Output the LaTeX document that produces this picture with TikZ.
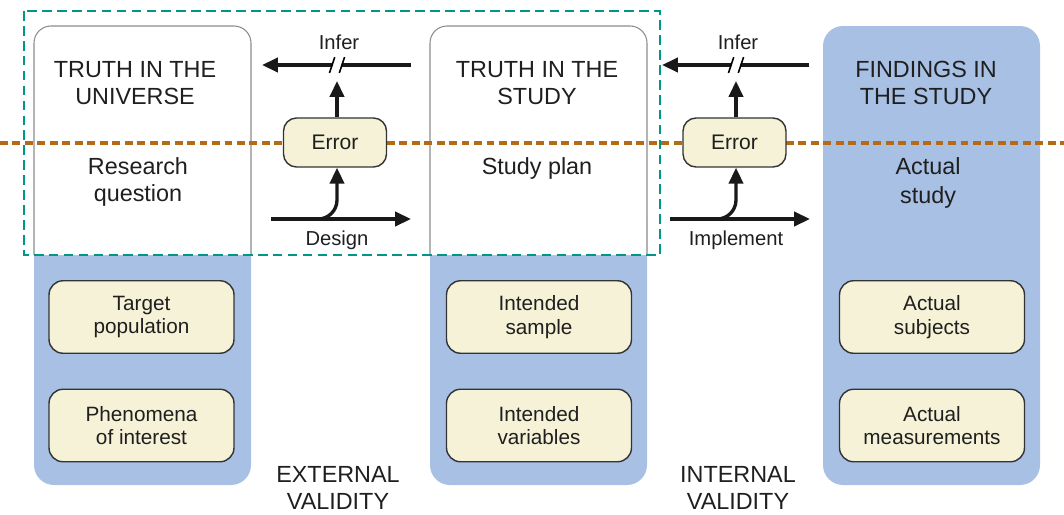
\documentclass[tikz,border=0pt]{standalone}
\usepackage{fontspec}
\setmainfont{Liberation Sans}
\usetikzlibrary{arrows.meta, positioning}

\definecolor{colBlue}{RGB}{168,192,228}
\definecolor{boxCream}{RGB}{245,242,215}
\definecolor{dotOrange}{RGB}{181,106,22}
\definecolor{dashTeal}{RGB}{0,150,136}

\begin{document}
\begin{tikzpicture}[
	x=0.02cm,
	y=-0.02cm,
	every node/.style={
		text=black!88,
		align=center,
		font=\fontsize{13.3}{15.5}\selectfont
	},
	itembox/.style={
		draw=black!80,
		fill=boxCream,
		line width=0.8pt,
		rounded corners=0.28cm,
		minimum width=3.7cm,
		minimum height=1.45cm,
		font=\fontsize{11.8}{13.5}\selectfont
	},
	errbox/.style={
		draw=black!80,
		fill=boxCream,
		line width=0.8pt,
		rounded corners=0.26cm,
		minimum width=2.06cm,
		minimum height=0.98cm,
		font=\fontsize{12}{14}\selectfont
	},
	flow/.style={
		line width=1.9pt,
		draw=black!90,
		-{Triangle[length=9pt,width=8pt]}
	},
	lbl/.style={
		font=\fontsize{11.5}{13}\selectfont
	}
]
	\useasboundingbox (0,0) rectangle (1064,514);

	% columns
	\fill[
		colBlue,
		rounded corners=0.4cm
	] (34,200) rectangle (251,485);
	\fill[
		colBlue,
		rounded corners=0.4cm
	] (430,200) rectangle (647,485);
	\fill[
		colBlue,
		rounded corners=0.4cm
	] (823,26) rectangle (1040,485);
	\draw[
		draw=black!45,
		fill=white,
		line width=0.6pt,
		rounded corners=0.34cm
	] (34,255) -- (34,26) -- (251,26) -- (251,255);
	\draw[
		draw=black!45,
		fill=white,
		line width=0.6pt,
		rounded corners=0.34cm
	] (430,255) -- (430,26) -- (647,26) -- (647,255);

	% dashed frame and dotted divider
	\draw[
		dashTeal,
		line width=1.6pt,
		dash pattern=on 5.5pt off 3pt
	] (24,11) rectangle (660,255);
	\draw[
		dotOrange,
		line width=2.8pt,
		dash pattern=on 4.5pt off 2.6pt
	] (0,143) -- (1064,143);

	% column texts
	\node (universe) at (135,83) {TRUTH IN THE\\UNIVERSE};
	\node (question) at (138,182) {Research\\question};
	\node (truth) at (537,83) {TRUTH IN THE\\STUDY};
	\node (plan) at (537,168) {Study plan};
	\node (findings) at (926,83) {FINDINGS IN\\THE STUDY};
	\node[
		font=\fontsize{13.3}{17}\selectfont
	] (actual) at (928,183) {Actual\\study};

	% inner boxes
	\node[itembox] (target) at (141.5,317) {Target\\population};
	\node[itembox] (phenom) at (141.5,425.5) {Phenomena\\of interest};
	\node[itembox] (sample) at (539,317) {Intended\\sample};
	\node[itembox] (vars) at (539,425.5) {Intended\\variables};
	\node[itembox] (subjects) at (932,317) {Actual\\subjects};
	\node[itembox] (measures) at (932,425.5) {Actual\\measurements};

	% validity labels
	\node (external) at (338,488) {EXTERNAL\\VALIDITY};
	\node (internal) at (738,488) {INTERNAL\\VALIDITY};

	% error boxes
	\node[errbox] (err1) at (335,142.5) {Error};
	\node[errbox] (err2) at (734.5,142.5) {Error};

	% external side arrows
	\coordinate (infer1R) at (411,65);
	\coordinate (infer1L) at (262,65);
	\coordinate (up1) at (337,81);
	\coordinate (brk1) at (337,65);
	\coordinate (design1L) at (271,219);
	\coordinate (design1R) at (411,219);
	\coordinate (bend1) at (312,219);
	\draw[flow] (infer1R) -- (infer1L);
	\fill[white] ([xshift=-3.5pt,yshift=-4.5pt]brk1) -- ([xshift=1.5pt,yshift=-4.5pt]brk1)
		-- ([xshift=3.5pt,yshift=4.5pt]brk1) -- ([xshift=-1.5pt,yshift=4.5pt]brk1) -- cycle;
	\draw[
		line width=0.9pt
	] ([xshift=-4.3pt,yshift=-4.5pt]brk1) -- ([xshift=-1.3pt,yshift=4.5pt]brk1);
	\draw[
		line width=0.9pt
	] ([xshift=1.3pt,yshift=-4.5pt]brk1) -- ([xshift=4.3pt,yshift=4.5pt]brk1);
	\draw[flow] (err1.north -| up1) -- (up1);
	\draw[flow] (design1L) -- (design1R);
	\draw[
		flow,
		rounded corners=0.38cm
	] (bend1) -| (err1.south -| up1);
	\node[lbl] (infer1) at (339,42) {Infer};
	\node[lbl] (design) at (337,240) {Design};

	% internal side arrows
	\coordinate (infer2R) at (809,65);
	\coordinate (infer2L) at (662,65);
	\coordinate (up2) at (736,81);
	\coordinate (brk2) at (736,65);
	\coordinate (impl2L) at (670,219);
	\coordinate (impl2R) at (810,219);
	\coordinate (bend2) at (711,219);
	\draw[flow] (infer2R) -- (infer2L);
	\fill[white] ([xshift=-3.5pt,yshift=-4.5pt]brk2) -- ([xshift=1.5pt,yshift=-4.5pt]brk2)
		-- ([xshift=3.5pt,yshift=4.5pt]brk2) -- ([xshift=-1.5pt,yshift=4.5pt]brk2) -- cycle;
	\draw[
		line width=0.9pt
	] ([xshift=-4.3pt,yshift=-4.5pt]brk2) -- ([xshift=-1.3pt,yshift=4.5pt]brk2);
	\draw[
		line width=0.9pt
	] ([xshift=1.3pt,yshift=-4.5pt]brk2) -- ([xshift=4.3pt,yshift=4.5pt]brk2);
	\draw[flow] (err2.north -| up2) -- (up2);
	\draw[flow] (impl2L) -- (impl2R);
	\draw[
		flow,
		rounded corners=0.38cm
	] (bend2) -| (err2.south -| up2);
	\node[lbl] (infer2) at (738,42) {Infer};
	\node[lbl] (implement) at (736,240) {Implement};

\end{tikzpicture}
\end{document}
